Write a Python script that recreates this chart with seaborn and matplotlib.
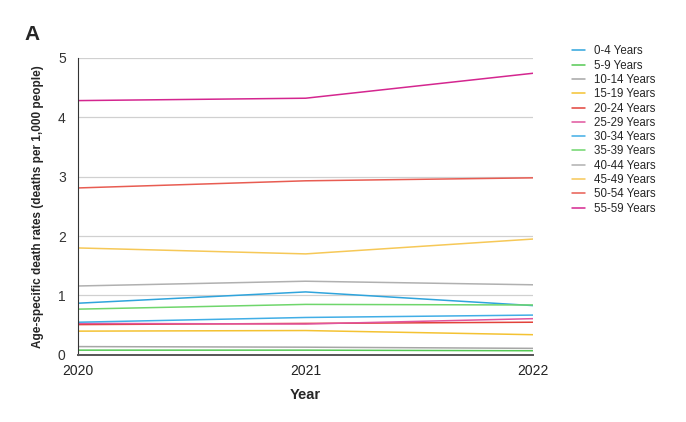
import pandas as pd
import matplotlib
matplotlib.use("Agg")
import matplotlib.pyplot as plt
import seaborn as sns

years = [2020, 2021, 2022]
age_groups = ["0-4 Years", "5-9 Years", "10-14 Years", "15-19 Years",
              "20-24 Years", "25-29 Years", "30-34 Years", "35-39 Years",
              "40-44 Years", "45-49 Years", "50-54 Years", "55-59 Years"]

rate_0_4 = [0.87, 1.06, 0.83]
rate_5_9 = [0.08, 0.08, 0.07]
rate_10_14 = [0.14, 0.13, 0.11]
rate_15_19 = [0.40, 0.41, 0.34]
rate_20_24 = [0.51, 0.53, 0.55]
rate_25_29 = [0.53, 0.52, 0.61]
rate_30_34 = [0.55, 0.63, 0.67]
rate_35_39 = [0.77, 0.85, 0.84]
rate_40_44 = [1.16, 1.24, 1.18]
rate_45_49 = [1.80, 1.70, 1.95]
rate_50_54 = [2.81, 2.93, 2.98]
rate_55_59 = [4.28, 4.32, 4.74]

colours = ["#2fa4dc", "#55c954", "#a6a6a6", "#f4c232", "#e2423a", "#e0559e",
           "#41aee6", "#6fd66c", "#b0b0b0", "#f6c857", "#e85c52", "#d4268f"]


def build_frame():
    series = [rate_0_4, rate_5_9, rate_10_14, rate_15_19, rate_20_24, rate_25_29,
              rate_30_34, rate_35_39, rate_40_44, rate_45_49, rate_50_54, rate_55_59]
    rows = []
    for group, values in zip(age_groups, series):
        for year, value in zip(years, values):
            rows.append({"Year": year, "Rate": value, "Age group": group})
    return pd.DataFrame(rows)


def main():
    df = build_frame()

    sns.set_style("white")
    plt.rcParams['font.family'] = ['Liberation Sans', 'DejaVu Sans']

    fig = plt.figure(figsize=(6.86, 4.22), dpi=100)
    ax = fig.add_axes([0.114, 0.159, 0.663, 0.704])

    sns.lineplot(data=df, x="Year", y="Rate", hue="Age group",
                 hue_order=age_groups, palette=colours, linewidth=1.1, ax=ax)

    ax.set_xlim(2020, 2022)
    ax.set_ylim(0, 5)
    ax.set_xticks(years)
    ax.set_xticklabels([str(y) for y in years])
    ax.set_yticks([0, 1, 2, 3, 4, 5])
    ax.yaxis.grid(True, color="#d0d0d0", linewidth=0.9)
    ax.set_axisbelow(True)
    for side in ["top", "right"]:
        ax.spines[side].set_visible(False)
    ax.spines["left"].set_color("#333333")
    ax.spines["bottom"].set_color("#555555")
    ax.spines["bottom"].set_linewidth(1.4)
    ax.tick_params(axis="x", length=5, width=1, color="#333333", direction="inout",
                   labelsize=10, labelcolor="#222222", pad=4)
    ax.tick_params(axis="y", length=0, labelsize=10, labelcolor="#333333", pad=9)

    ax.set_xlabel("Year", fontsize=10.5, fontweight="bold", labelpad=7)
    ax.set_ylabel("Age-specific death rates (deaths per 1,000 people)",
                  fontsize=8.5, fontweight="bold", labelpad=10)

    ax.legend(loc="upper left", bbox_to_anchor=(1.063, 1.077), frameon=False,
              fontsize=8.3, handlelength=1.1, handletextpad=0.8, labelspacing=0.2)

    fig.text(0.035, 0.905, "A", fontsize=15, fontweight="bold")

    fig.savefig("out.png", dpi=100)


if __name__ == "__main__":
    main()
